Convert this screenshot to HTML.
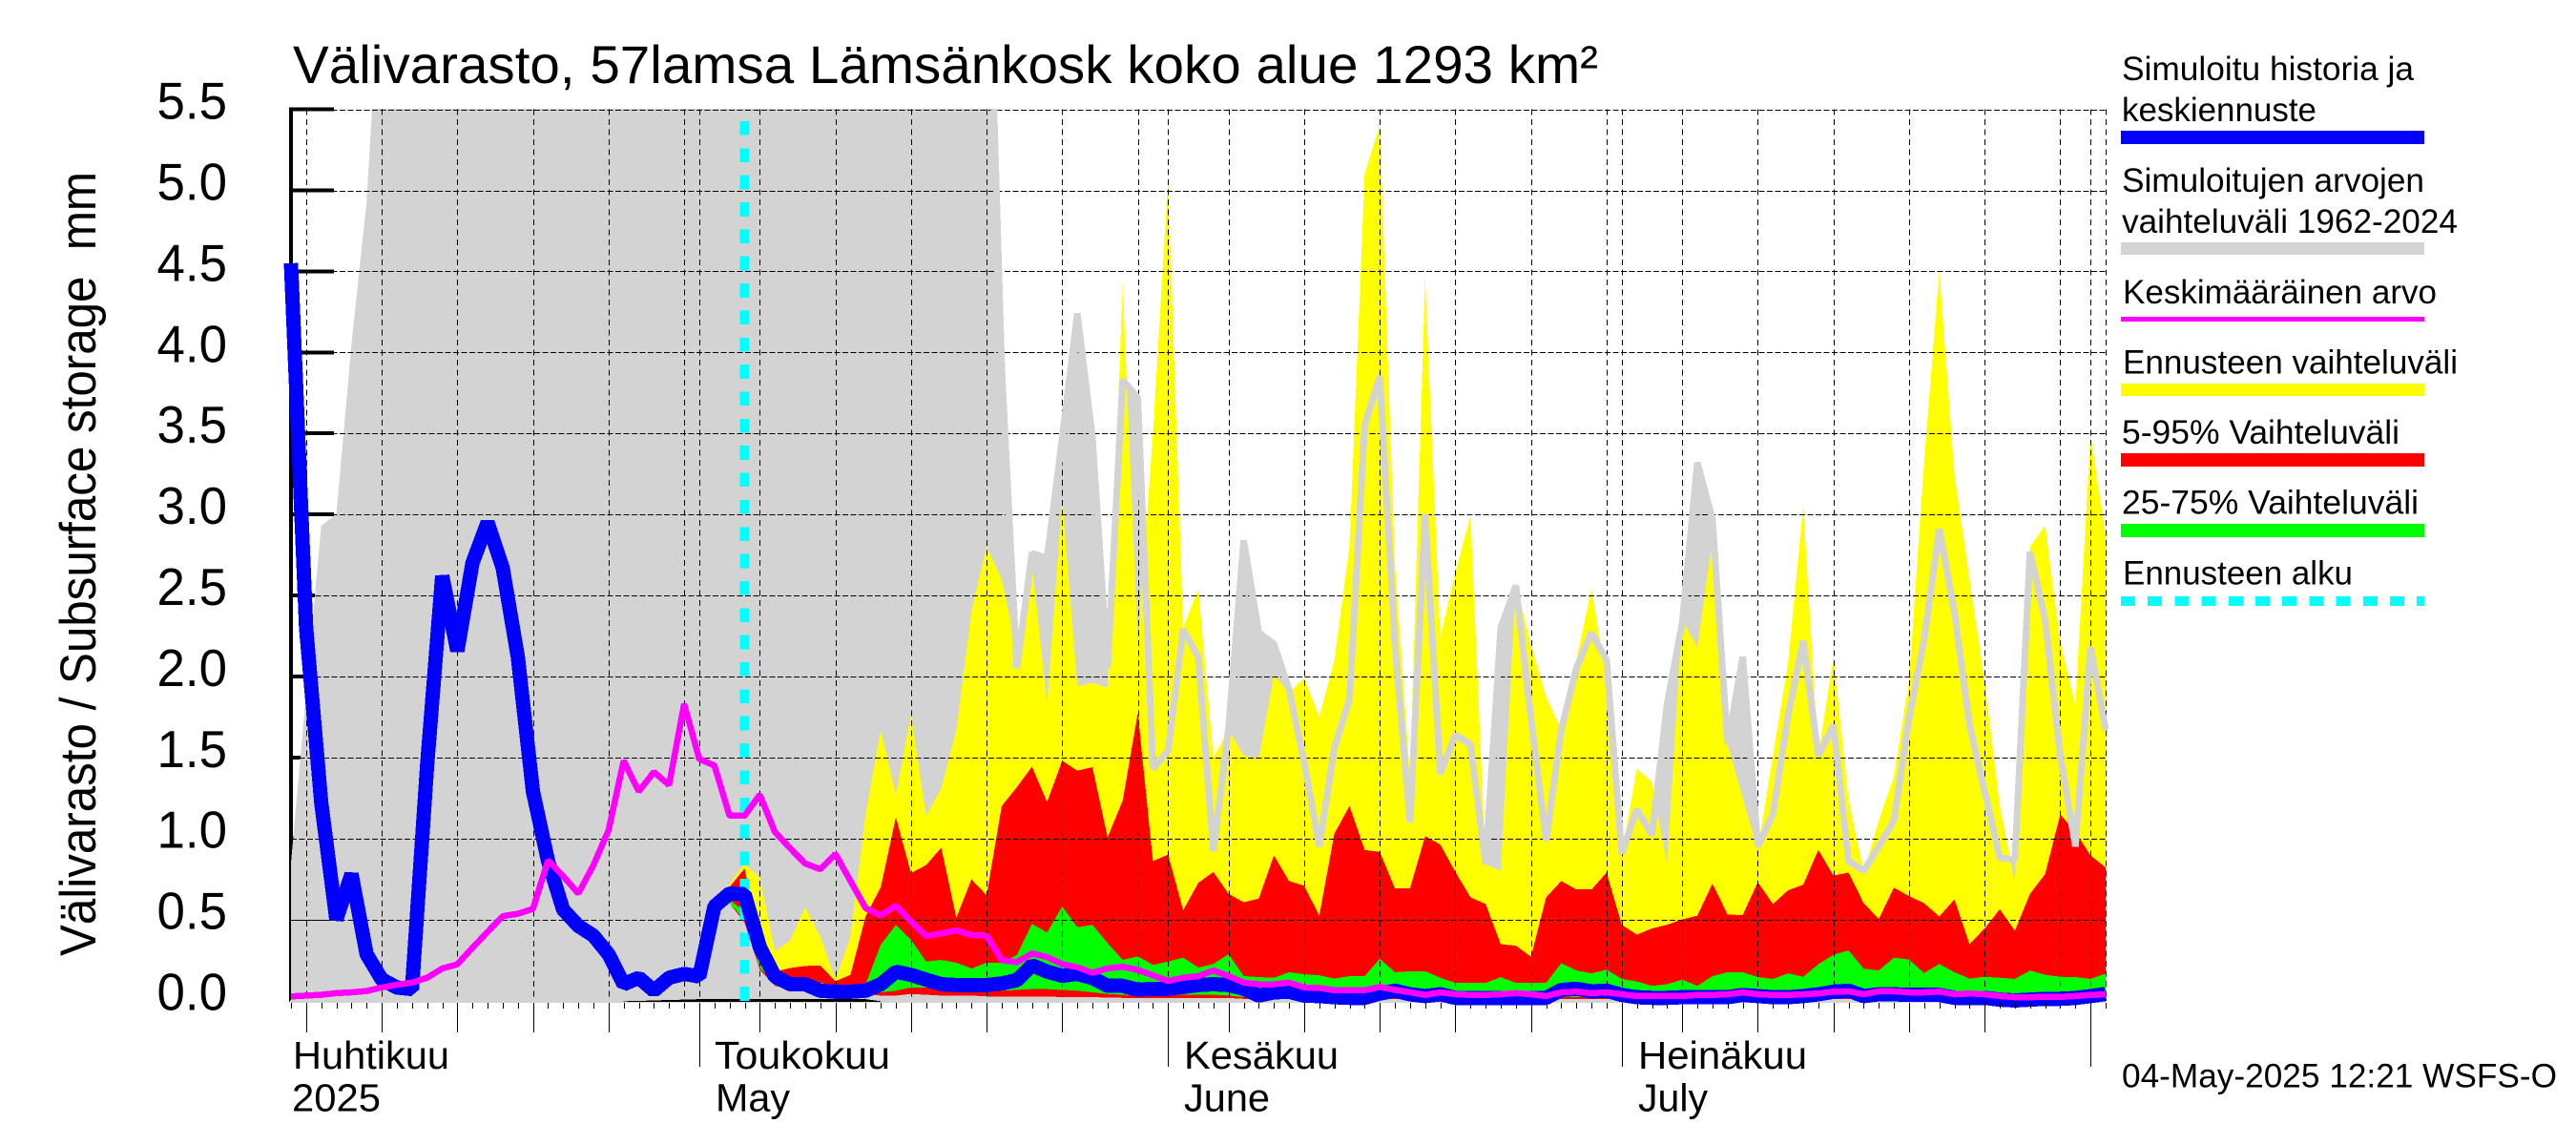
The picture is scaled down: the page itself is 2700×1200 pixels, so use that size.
<!DOCTYPE html>
<html lang="fi">
<head>
<meta charset="utf-8">
<title>Välivarasto chart</title>
<style>
html,body{margin:0;padding:0;background:#fff;}
svg{display:block;}
text{font-family:"Liberation Sans",sans-serif;fill:#000;white-space:pre;}
.m{shape-rendering:crispEdges;}
</style>
</head>
<body>
<svg id="chart" xmlns="http://www.w3.org/2000/svg" width="2700" height="1200" viewBox="0 0 2700 1200">
<rect x="0" y="0" width="2700" height="1200" fill="#fff"/>
<defs><clipPath id="plot-clip"><rect x="296" y="114" width="1918" height="945"/></clipPath></defs>
<g id="under-layer" class="m"></g>
<g id="fill-layer" class="m" clip-path="url(#plot-clip)"></g>
<g id="grid-layer" class="m"></g>
<g id="line-layer" class="m" clip-path="url(#plot-clip)"></g>
<g id="tick-layer" class="m"></g>

<text x="307" y="87" font-size="56" textLength="1368" lengthAdjust="spacingAndGlyphs">Välivarasto, 57lamsa Lämsänkosk koko alue 1293 km²</text>
<text transform="translate(100,1002) rotate(-90)" font-size="53" textLength="822" lengthAdjust="spacingAndGlyphs">Välivarasto / Subsurface storage  mm</text>

<g id="y-labels"></g>

<text x="307" y="1120" font-size="41" textLength="164" lengthAdjust="spacingAndGlyphs">Huhtikuu</text>
<text x="306" y="1164.5" font-size="41" textLength="93" lengthAdjust="spacingAndGlyphs">2025</text>
<text x="749" y="1120" font-size="41" textLength="184" lengthAdjust="spacingAndGlyphs">Toukokuu</text>
<text x="750" y="1164.5" font-size="41" textLength="78" lengthAdjust="spacingAndGlyphs">May</text>
<text x="1241" y="1120" font-size="41" textLength="162" lengthAdjust="spacingAndGlyphs">Kesäkuu</text>
<text x="1241" y="1164.5" font-size="41" textLength="90" lengthAdjust="spacingAndGlyphs">June</text>
<text x="1717" y="1120" font-size="41" textLength="177" lengthAdjust="spacingAndGlyphs">Heinäkuu</text>
<text x="1717" y="1164.5" font-size="41" textLength="73" lengthAdjust="spacingAndGlyphs">July</text>

<g>
<text x="2224" y="84" font-size="35" textLength="306" lengthAdjust="spacingAndGlyphs">Simuloitu historia ja</text>
<text x="2224" y="127" font-size="35" textLength="204" lengthAdjust="spacingAndGlyphs">keskiennuste</text>
<rect class="m" x="2223" y="137" width="318" height="14" fill="#0000ff"/>
<text x="2224" y="201" font-size="35" textLength="317" lengthAdjust="spacingAndGlyphs">Simuloitujen arvojen</text>
<text x="2224" y="244" font-size="35" textLength="352" lengthAdjust="spacingAndGlyphs">vaihteluväli 1962-2024</text>
<rect class="m" x="2223" y="254" width="318" height="13" fill="#d3d3d3"/>
<text x="2225" y="318" font-size="35" textLength="329" lengthAdjust="spacingAndGlyphs">Keskimääräinen arvo</text>
<rect class="m" x="2223" y="332" width="318" height="5" fill="#ff00ff"/>
<text x="2225" y="391.5" font-size="35" textLength="351" lengthAdjust="spacingAndGlyphs">Ennusteen vaihteluväli</text>
<rect class="m" x="2223" y="402" width="318" height="13" fill="#ffff00"/>
<text x="2224" y="465" font-size="35" textLength="291" lengthAdjust="spacingAndGlyphs">5-95% Vaihteluväli</text>
<rect class="m" x="2223" y="475" width="318" height="14" fill="#ff0000"/>
<text x="2224" y="538.5" font-size="35" textLength="311" lengthAdjust="spacingAndGlyphs">25-75% Vaihteluväli</text>
<rect class="m" x="2223" y="549" width="318" height="14" fill="#00ff00"/>
<text x="2225" y="612.5" font-size="35" textLength="241" lengthAdjust="spacingAndGlyphs">Ennusteen alku</text>
<line class="m" x1="2223" x2="2541" y1="630" y2="630" stroke="#00ffff" stroke-width="10" stroke-dasharray="15 13.2"/>
</g>
<text x="2224" y="1139.5" font-size="35" textLength="456" lengthAdjust="spacingAndGlyphs">04-May-2025 12:21 WSFS-O</text>
</svg>

<script>
// ---- data: daily values from day index 0 (4 April 2025) ----
const yTickLabels = ["0.0","0.5","1.0","1.5","2.0","2.5","3.0","3.5","4.0","4.5","5.0","5.5"];
const yTickValues = [0,0.5,1,1.5,2,2.5,3,3.5,4,4.5,5,5.5];
const fifthDays = [1,6,11,16,21,31,36,41,46,51,62,67,72,77,82,92,97,102,107,112];
const thirtiethDays = [26,56,87,117];
const monthStartDays = [27,58,88,119];
const dayCount = 121;
const forecastStartDay = 30;
const bandStartDay = 29;

const blueSeries = [
4.55,2.3,1.22,.5,.78,.285,.13,.08,.07,1.45,
2.62,2.157,2.7,2.95,2.67,2.12,1.29,.86,.56,.46,
.40,.285,.1,.14,.06,.14,.164,.148,.58,.66,
.655,.33,.148,.1,.1,.06,.054,.054,.06,.1,
.177,.158,.128,.1,.095,.095,.095,.105,.125,.217,
.178,.152,.164,.138,.09,.09,.066,.072,.072,.083,
.095,.1,.095,.072,.03,.05,.054,.03,.027,.02,
.016,.016,.043,.06,.038,.027,.038,.016,.016,.016,
.016,.016,.016,.016,.065,.072,.056,.06,.034,.02,
.016,.016,.02,.02,.02,.02,.034,.027,.02,.02,
.027,.038,.054,.06,.027,.038,.038,.034,.034,.034,
.016,.016,.016,.005,0,.005,.01,.01,.015,.027,
.04];

const meanSeries = [
.025,.03,.035,.045,.05,.058,.08,.097,.11,.14,
.197,.223,.325,.423,.52,.535,.565,.865,.767,.66,
.835,1.05,1.48,1.29,1.41,1.33,1.83,1.49,1.45,1.14,
1.14,1.27,1.04,.94,.845,.81,.904,.737,.57,.525,
.584,.488,.397,.413,.433,.403,.4,.25,.236,.29,
.268,.224,.205,.17,.198,.208,.188,.155,.12,.14,
.15,.185,.15,.11,.1,.1,.11,.08,.077,.063,
.063,.063,.083,.065,.05,.034,.05,.038,.034,.034,
.038,.045,.038,.027,.05,.054,.045,.05,.038,.027,
.027,.027,.027,.034,.034,.038,.05,.038,.034,.034,
.038,.043,.054,.056,.038,.056,.056,.05,.05,.054,
.038,.043,.038,.027,.02,.02,.022,.022,.027,.034,
.038];

const rangeMaxSeries = [
.85,1.9,2.93,3.0,4.05,4.93,6.5,7,7,7,
7,7,7,7,7,7,7,7,7,7,
7,7,7,7,7,7,7,7,7,7,
7,7,7,7,7,7,7,7,7,7,
7,7,7,7,7,7,7,3.9,2.05,2.76,
2.73,3.47,4.24,3.47,2.05,3.83,3.72,1.43,1.54,2.29,
2.12,.92,1.68,2.84,2.27,2.2,1.92,1.47,.95,1.56,
1.86,3.55,3.85,2.2,1.1,3.0,1.4,1.64,1.58,.84,
2.3,2.56,1.74,.985,1.67,2.05,2.27,2.1,.906,1.18,
1.02,1.83,2.33,3.32,2.97,1.58,2.12,.95,1.15,1.76,
2.22,1.51,1.7,.86,.8,.95,1.11,1.74,2.23,2.91,
2.4,1.7,1.29,.88,.87,2.77,2.35,1.51,.95,2.18,
1.67];

// forecast bands start at bandStartDay
const yellowTop = [
.72,.845,.757,.305,.368,.576,.393,.128,.393,1.15,
1.67,1.27,1.76,1.14,1.31,1.67,2.4,2.8,2.6,2.16,
2.7,1.83,3.09,1.94,1.96,1.93,4.42,2.2,3.5,5.07,
2.3,2.54,1.5,1.67,1.51,1.49,2.01,1.9,1.99,1.75,
2.1,2.8,5.1,5.4,2.7,1.38,4.46,2.24,2.64,2.99,
.84,.8,2.58,2.19,1.875,1.67,2.1,2.54,1.97,.906,
1.43,1.35,.84,2.35,2.18,2.84,1.58,1.25,.93,1.51,
2.08,3.05,1.51,2.12,1.24,.79,1.11,1.38,1.97,3.33,
4.5,3.25,2.6,1.97,1.2,.73,2.8,2.93,2.21,1.82,
3.49,2.87];

const redTop = [
.7,.815,.35,.178,.2,.213,.215,.119,.158,.52,
.698,1.13,.786,.835,.943,.511,.747,.649,1.2,1.316,
1.443,1.224,1.48,1.418,1.44,1.007,1.233,1.774,.86,.9,
.557,.726,.793,.658,.606,.629,.895,.737,.708,.523,
1.03,1.2,.929,.917,.692,.692,1.014,.962,.793,.636,
.595,.347,.338,.27,.636,.737,.685,.685,.789,.467,
.406,.444,.467,.5,.523,.721,.53,.527,.73,.595,
.68,.714,.929,.771,.789,.6,.503,.696,.644,.6,
.518,.624,.347,.444,.563,.43,.658,.78,1.147,1.04,
.895,.82];

const greenTop = [
.62,.55,.25,.15,.14,.145,.11,.09,.08,.1,
.344,.466,.374,.24,.25,.233,.197,.233,.233,.28,
.472,.419,.58,.452,.466,.354,.25,.272,.219,.24,
.264,.203,.225,.286,.15,.144,.14,.174,.162,.155,
.135,.15,.15,.257,.174,.18,.18,.14,.108,.108,
.108,.144,.108,.108,.108,.23,.185,.167,.19,.133,
.117,.09,.1,.128,.09,.15,.174,.174,.144,.133,
.167,.146,.223,.282,.309,.196,.185,.264,.252,.169,
.225,.174,.135,.146,.14,.133,.185,.158,.146,.144,
.133,.165];

const greenBottom = [
.6,.5,.2,.1,.09,.08,.07,.06,.05,.05,
.05,.06,.08,.08,.07,.065,.06,.06,.06,.065,
.07,.07,.065,.06,.05,.04,.035,.03,.03,.03,
.035,.035,.035,.03,.02,.02,.02,.02,.02,.02,
.02,.02,.02,.02,.02,.02,.02,.02,.02,.02,
.02,.02,.02,.02,.02,.02,.02,.02,.02,.02,
.02,.02,.02,.02,.02,.02,.02,.02,.02,.02,
.02,.02,.02,.02,.02,.02,.02,.02,.02,.02,
.02,.02,.02,.02,.02,.02,.02,.02,.02,.02,
.02,.02];

const redBottom = [
.6,.48,.19,.09,.07,.06,.05,.05,.04,.04,
.03,.03,.04,.035,.03,.03,.03,.025,.025,.025,
.025,.025,.02,.02,.02,.018,.016,.015,.015,.015,
.015,.015,.015,.015,.01,.01,.01,.01,.01,.01,
.01,.01,.01,.01,.01,.01,.01,.01,.01,.01,
.01,.01,.01,.01,.01,.01,.01,.01,.01,.01,
.01,.01,.01,.01,.01,.01,.01,.01,.01,.01,
.01,.01,.01,.01,.01,.01,.01,.01,.01,.01,
.01,.01,.01,.01,.01,.01,.01,.01,.01,.01,
.01,.01];

// thin black strip along the baseline, starts at stripStartDay
const stripStartDay = 22;
const baselineStrip = [-.005,-.003,0,.003,.005,.008,.008,.01,.01,.01,.01,.01,.01,.01,.01,.01,.008,-.005];

// ---- axis functions ----
function xDay(d){ return 305 + 15.85 * d; }
function yVal(v){ return 1048.5 - 169.8 * v; }
function pixelCentre(p){ return Math.round(p) + 0.5; }
const NS = "http://www.w3.org/2000/svg";
const under = document.getElementById("under-layer");
const fills = document.getElementById("fill-layer");
const grid = document.getElementById("grid-layer");
const lines = document.getElementById("line-layer");
const ticks = document.getElementById("tick-layer");
const yLabels = document.getElementById("y-labels");

function svgLine(parent,x1,y1,x2,y2,stroke,width,dash){
  const el = document.createElementNS(NS,"line");
  el.setAttribute("x1",x1); el.setAttribute("y1",y1);
  el.setAttribute("x2",x2); el.setAttribute("y2",y2);
  el.setAttribute("stroke",stroke); el.setAttribute("stroke-width",width);
  if(dash) el.setAttribute("stroke-dasharray",dash);
  parent.appendChild(el);
  return el;
}
function pointsOf(series,start){
  return series.map(function(v,i){ return xDay(start+i).toFixed(2)+","+yVal(v).toFixed(2); });
}
function band(parent,upper,lower,start,color){
  const el = document.createElementNS(NS,"polygon");
  const up = pointsOf(upper,start);
  const low = pointsOf(lower,start).reverse();
  el.setAttribute("points",up.concat(low).join(" "));
  el.setAttribute("fill",color);
  parent.appendChild(el);
  return el;
}
function polyline(parent,series,start,color,width){
  const el = document.createElementNS(NS,"polyline");
  el.setAttribute("points",pointsOf(series,start).join(" "));
  el.setAttribute("fill","none");
  el.setAttribute("stroke",color);
  el.setAttribute("stroke-width",width);
  el.setAttribute("stroke-linejoin","bevel");
  el.setAttribute("stroke-linecap","butt");
  parent.appendChild(el);
  return el;
}

// ---- y axis, ticks under the grey range ----
const yAxisLine = svgLine(under,305,yVal(5.5)-2,305,yVal(0),"#000",4);


yTickValues.forEach(function(v,i){
  const t = svgLine(under,305,yVal(v),350,yVal(v),"#000",4);
  
  
  const lab = document.createElementNS(NS,"text");
  lab.setAttribute("x",238);
  lab.setAttribute("y",yVal(v)+10);
  lab.setAttribute("text-anchor","end");
  lab.setAttribute("font-size",55);
  lab.setAttribute("textLength",73.5);
  lab.setAttribute("lengthAdjust","spacingAndGlyphs");
  lab.textContent = yTickLabels[i];
  
  
  yLabels.appendChild(lab);
});

// ---- filled bands ----
const floorSeries = rangeMaxSeries.map(function(){ return -0.015; });
const rangeBand = band(fills,rangeMaxSeries,floorSeries,0,"#d3d3d3");


const yellowBand = band(fills,yellowTop,redBottom,bandStartDay,"#ffff00");


const redBand = band(fills,redTop,redBottom,bandStartDay,"#ff0000");


const greenBand = band(fills,greenTop,greenBottom,bandStartDay,"#00ff00");


const stripFloor = baselineStrip.map(function(){ return -0.01; });
const strip = band(fills,baselineStrip,stripFloor,stripStartDay,"#000");



// ---- grid ----
yTickValues.forEach(function(v){
  if(v === 0) return;
  const gy = pixelCentre(yVal(v));
  const g = svgLine(grid,305,gy,xDay(120),gy,"#000",1,"6 2.5");
  
  
});
const halfY = pixelCentre(yVal(.5));
const halfTick = svgLine(grid,303,halfY,347,halfY,"#000",1);


const thinAxis = svgLine(grid,303.5,yVal(2),303.5,yVal(-0.01),"#000",1);


fifthDays.concat(thirtiethDays,monthStartDays,[120]).forEach(function(d){
  const gx = pixelCentre(xDay(d));
  const g = svgLine(grid,gx,yVal(5.5),gx,yVal(0),"#000",1,"6 4.5");
  
  
});

// ---- lines ----
const startLine = svgLine(lines,xDay(forecastStartDay),127,xDay(forecastStartDay),1049,"#00ffff",10,"14.7 13.65");


const rangeLine = polyline(lines,rangeMaxSeries.slice(46),46,"#d3d3d3",7);


const blueLine = polyline(lines,blueSeries,0,"#0000ff",15);


const meanLine = polyline(lines,meanSeries,0,"#ff00ff",6.5);



// ---- x ticks ----
for(let d=0;d<dayCount;d++){
  const tx = pixelCentre(xDay(d));
  const t = svgLine(ticks,tx,1051,tx,1057,"#000",1);
  
  
}
fifthDays.forEach(function(d){
  const tx = pixelCentre(xDay(d));
  const t = svgLine(ticks,tx,1051,tx,1082,"#000",1);
  
  
});
monthStartDays.forEach(function(d){
  const tx = pixelCentre(xDay(d));
  const t = svgLine(ticks,tx,1051,tx,1118,"#000",1);
  
  
});
</script>
</body>
</html>
